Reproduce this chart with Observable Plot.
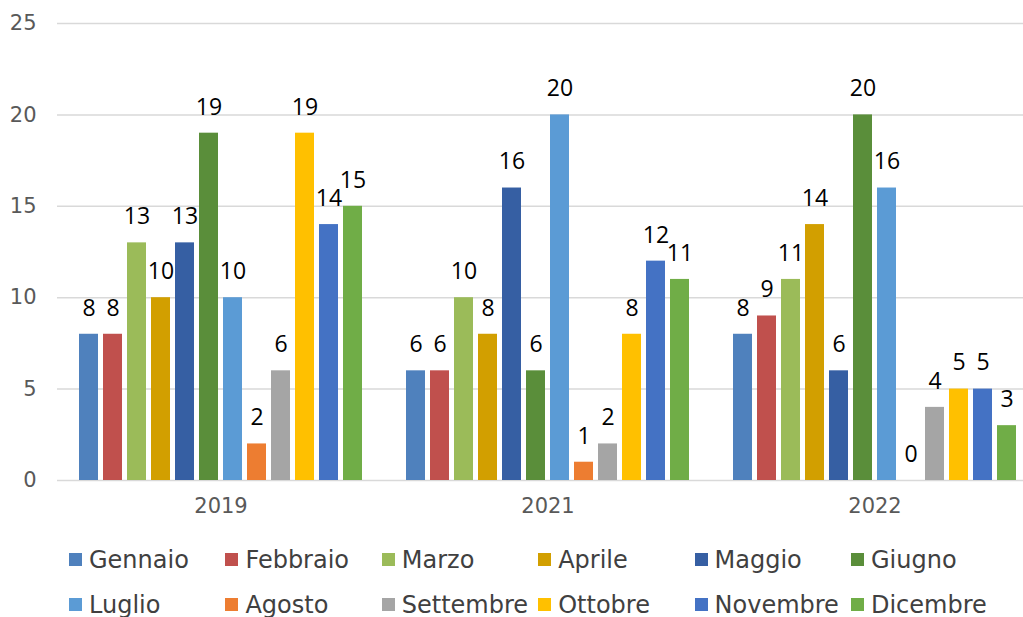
<!DOCTYPE html>
<html>
<head>
<meta charset="utf-8">
<script src="https://cdn.jsdelivr.net/npm/d3@7"></script>
<script src="https://cdn.jsdelivr.net/npm/@observablehq/plot@0.6"></script>
<style>
  html, body { margin: 0; padding: 0; background: #fff; overflow: hidden; }
  #wrap { width: 1023px; height: 617px; overflow: hidden; position: relative; }
  #chart svg { max-width: none !important; display: block; }
  #legend { position: absolute; left: 69px; top: 520px; width: 960px; padding-top: 17px;
    display: flex; flex-wrap: wrap; font-family: "DejaVu Sans", Verdana, sans-serif; font-size: 24px; color: #404040; }
  .item { width: 156.4px; height: 45px; display: flex; align-items: center; white-space: nowrap; }
  .sw { width: 13px; height: 13px; margin-right: 7px; flex: none; }
</style>
</head>
<body>
<div id="wrap"><div id="chart"></div><div id="legend"></div></div>
<script>
const years = ["2019", "2021", "2022"];
const months = ["Gennaio", "Febbraio", "Marzo", "Aprile", "Maggio", "Giugno",
  "Luglio", "Agosto", "Settembre", "Ottobre", "Novembre", "Dicembre"];
const v2019 = [8, 8, 13, 10, 13, 19, 10, 2, 6, 19, 14, 15];
const v2021 = [6, 6, 10, 8, 16, 6, 20, 1, 2, 8, 12, 11];
const v2022 = [8, 9, 11, 14, 6, 20, 16, 0, 4, 5, 5, 3];
const colors = ["#4F81BD", "#C0504D", "#9BBB59", "#D29F00", "#365FA3", "#5A8E3A",
  "#5B9BD5", "#ED7D31", "#A5A5A5", "#FFC000", "#4472C4", "#70AD47"];
const yTicks = [0, 5, 10, 15, 20, 25];

const series = [v2019, v2021, v2022];
const data = years.flatMap((y, i) => months.map((m, j) => ({year: y, month: m, value: series[i][j]})));

const chart = Plot.plot({
  width: 1038,
  height: 520,
  marginLeft: 57,
  marginRight: 0,
  marginTop: 23,
  marginBottom: 40,
  style: {fontFamily: "DejaVu Sans, Verdana, sans-serif", fontSize: "21px", color: "#595959", background: "#fff", maxWidth: "none"},
  fx: {domain: years, padding: 0, label: null, axis: "bottom", tickSize: 0, tickPadding: 18},
  x: {domain: months, paddingInner: 0.2, paddingOuter: 0.9, axis: null},
  y: {domain: [0, 25], ticks: yTicks, label: null, tickSize: 0, tickPadding: 21},
  color: {domain: months, range: colors},
  marks: [
    Plot.ruleY(yTicks, {stroke: "#D9D9D9", strokeWidth: 1.5}),
    Plot.barY(data, {fx: "year", x: "month", y: "value", fill: "month"}),
    Plot.text(data, {fx: "year", x: "month", y: "value", text: d => String(d.value), dy: -26,
      fontSize: 23, fill: "#000", fontFamily: "Open Sans, sans-serif"})
  ]
});
document.getElementById("chart").appendChild(chart);

const legend = document.getElementById("legend");
months.forEach((m, i) => {
  const it = document.createElement("div");
  it.className = "item";
  const sw = document.createElement("span");
  sw.className = "sw";
  sw.style.background = colors[i];
  it.appendChild(sw);
  it.appendChild(document.createTextNode(m));
  legend.appendChild(it);
});
</script>
</body>
</html>
